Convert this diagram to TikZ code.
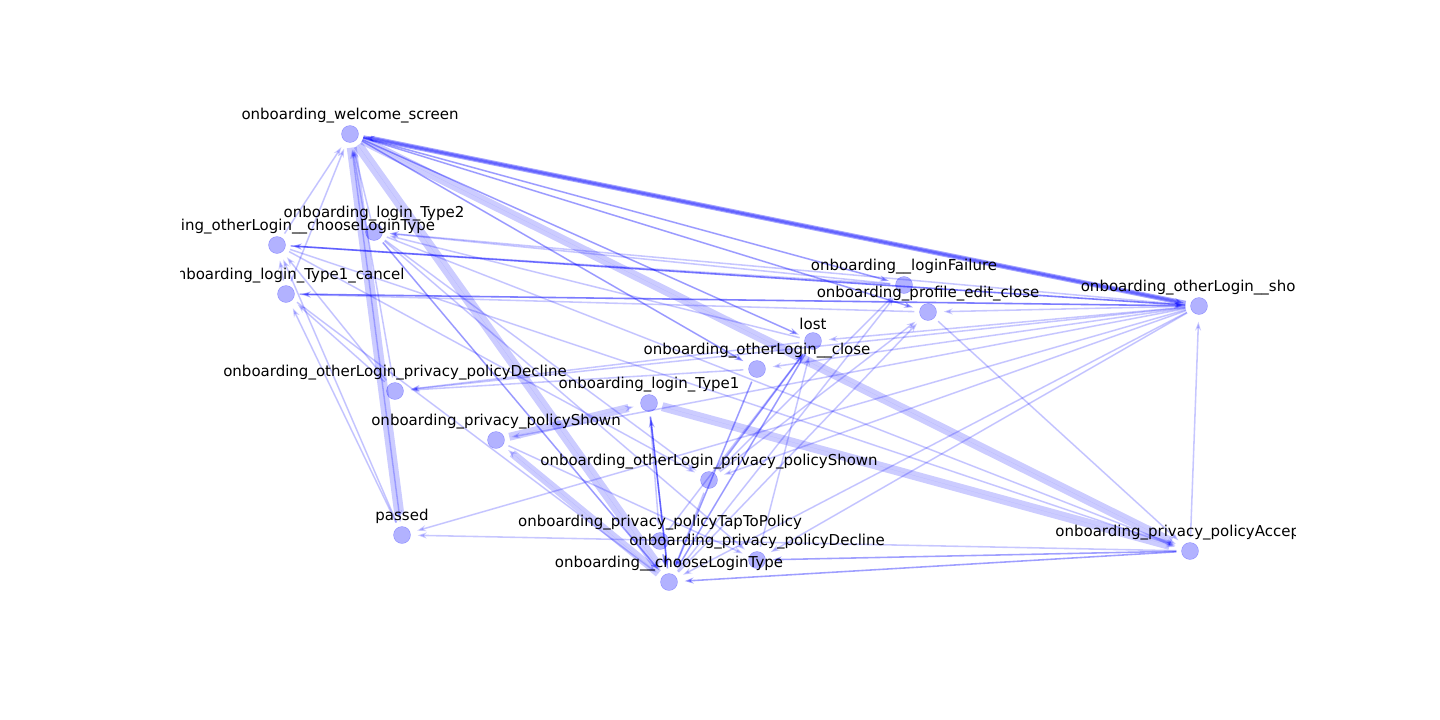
\documentclass[tikz,border=0pt]{standalone}
\usepackage{fontspec}
\setmainfont{DejaVu Sans}
\usetikzlibrary{arrows.meta}
\definecolor{edgeblue}{RGB}{0,0,255}
\tikzset{
  vtx/.style={circle, fill=edgeblue, fill opacity=0.3, draw=edgeblue, draw opacity=0.3, minimum size=17pt, inner sep=0pt},
  lbl/.style={font=\fontsize{15}{18}\selectfont, text=black, inner sep=0pt},
  e/.style={draw=edgeblue, draw opacity=0.2, fill=edgeblue, fill opacity=0.2, line width=1.6pt,
    -{Stealth[length=9pt,width=6pt]}, shorten >=7pt, shorten <=5pt},
  em/.style={e, draw opacity=0.35, fill opacity=0.35},
  ethick/.style={e, line width=#1}
}
\begin{document}
\begin{tikzpicture}[x=1pt,y=-1pt]
  \useasboundingbox (0,0) rectangle (1440,720);

  % Nodes
  \node[vtx] (wel)   at (350,134) {};
  \node[vtx] (tt)    at (374,232) {};
  \node[vtx] (oc)    at (277,245) {};
  \node[vtx] (tc)    at (286,294) {};
  \node[vtx] (fail)  at (904,285) {};
  \node[vtx] (prof)  at (928,312) {};
  \node[vtx] (sh)    at (1199,306) {};
  \node[vtx] (lost)  at (813,341) {};
  \node[vtx] (close) at (757,369) {};
  \node[vtx] (odec)  at (395,391) {};
  \node[vtx] (tone)  at (649,403) {};
  \node[vtx] (shown) at (496,440) {};
  \node[vtx] (osh)   at (709,480) {};
  \node[vtx] (pass)  at (402,535) {};
  \node[vtx] (tap)   at (660,541) {};
  \node[vtx] (dec)   at (757,560) {};
  \node[vtx] (choo)  at (669,582) {};
  \node[vtx] (acc)   at (1190,551) {};

  % Thick edges
  \draw[ethick=10pt] (wel) -- (pass);
  \draw[ethick=10pt] (wel) -- (choo);
  \draw[ethick=9pt] (wel) -- (acc);
  \draw[ethick=9pt] (tone) -- (acc);
  \draw[ethick=8pt] (shown) -- (tone);
  \draw[ethick=8pt] (choo) -- (shown);
  \draw[em, line width=5pt] (sh) -- (wel);
  \draw[em, line width=3pt] (wel) -- (sh);

  % Medium edges
  \foreach \a/\b in {wel/lost, wel/close, wel/fail, wel/prof, tt/choo, choo/tone,
      tone/choo, close/choo, lost/choo, oc/sh, tc/sh, tap/choo, osh/lost, acc/choo, acc/dec}
    \draw[em] (\a) -- (\b);

  % Thin edges
  \foreach \a/\b in {oc/wel, tc/wel, tt/wel, odec/wel, tc/oc, odec/oc, pass/oc, odec/tc,
      pass/tc, sh/oc, sh/tc, sh/tt, fail/oc, prof/tc, lost/tt, sh/lost, sh/close, sh/prof,
      sh/osh, sh/choo, sh/pass, sh/dec, sh/shown, sh/odec, acc/sh, acc/pass, osh/choo,
      osh/prof, osh/fail, dec/lost, tap/lost, choo/prof, choo/fail, prof/acc, tt/acc,
      oc/acc, tc/choo, oc/osh, close/odec, shown/dec, tt/osh, tone/tap, lost/odec,
      fail/tt, tt/dec, pass/wel}
    \draw[e] (\a) -- (\b);

  % Labels
  \begin{scope}
    \clip (180,0) rectangle (1295,720);
    \foreach \n/\t in {wel/onboarding\_welcome\_screen, tt/onboarding\_login\_Type2,
        oc/onboarding\_otherLogin\_\_chooseLoginType, tc/onboarding\_login\_Type1\_cancel,
        fail/onboarding\_\_loginFailure, prof/onboarding\_profile\_edit\_close,
        sh/onboarding\_otherLogin\_\_shown, lost/lost, close/onboarding\_otherLogin\_\_close,
        odec/onboarding\_otherLogin\_privacy\_policyDecline, tone/onboarding\_login\_Type1,
        shown/onboarding\_privacy\_policyShown, osh/onboarding\_otherLogin\_privacy\_policyShown,
        pass/passed, tap/onboarding\_privacy\_policyTapToPolicy,
        dec/onboarding\_privacy\_policyDecline, choo/onboarding\_\_chooseLoginType,
        acc/onboarding\_privacy\_policyAccepted}
      \node[lbl, above=11pt] (l\n) at (\n.center) {\t};
  \end{scope}
\end{tikzpicture}
\end{document}
